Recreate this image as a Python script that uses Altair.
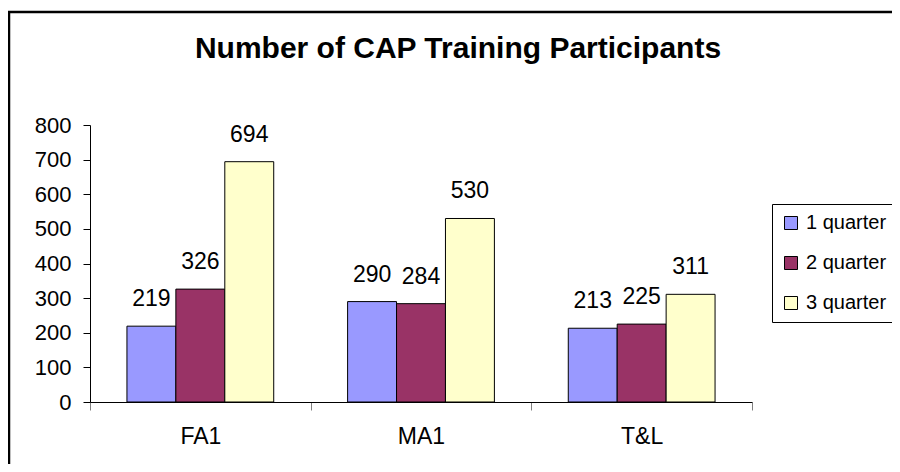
import altair as alt
import pandas as pd

title_text = "Number of CAP Training Participants"
categories = ["FA1", "MA1", "T&L"]
series = ["1 quarter", "2 quarter", "3 quarter"]
q1 = [219, 290, 213]
q2 = [326, 284, 225]
q3 = [694, 530, 311]
colors = ["#9999FF", "#993366", "#FFFFCC"]
y_ticks = [0, 100, 200, 300, 400, 500, 600, 700, 800]

rows = []
for i, c in enumerate(categories):
    for s, vals in zip(series, [q1, q2, q3]):
        rows.append({"course": c, "quarter": s, "value": vals[i]})
df = pd.DataFrame(rows)

FONT = "Liberation Sans"
W, H = 662, 277

x_enc = alt.X(
    "course:N",
    sort=categories,
    scale=alt.Scale(paddingInner=0, paddingOuter=0),
    axis=alt.Axis(
        title=None, labelAngle=0, tickBand="extent", tickSize=8, grid=False,
        tickColor="#808080", domainColor="black", labelFontSize=23,
        labelFont=FONT, labelColor="black", labelPadding=15,
    ),
)
xoff_enc = alt.XOffset(
    "quarter:N", sort=series,
    scale=alt.Scale(paddingInner=0, paddingOuter=0.755),
)
y_enc = alt.Y(
    "value:Q",
    scale=alt.Scale(domain=[0, 800], nice=False),
    axis=alt.Axis(
        title=None, values=y_ticks, grid=False, tickSize=7, tickColor="black",
        domainColor="black", labelFontSize=22, labelFont=FONT,
        labelColor="black", labelPadding=12, labelOverlap=False,
        tickCount=9,
    ),
)

frame = alt.Chart(pd.DataFrame({"f": [0]})).mark_rect(
    fillOpacity=0, stroke="black", strokeWidth=2.5
).encode(
    x=alt.value(-81), x2=alt.value(900), y=alt.value(-113), y2=alt.value(500)
)

title = alt.Chart(pd.DataFrame({"t": [title_text]})).mark_text(
    fontSize=30, font=FONT, fontWeight="bold", color="black",
    align="center", baseline="alphabetic",
).encode(
    text="t:N", x=alt.value(W / 2 + 37), y=alt.value(-67)
)

bars = alt.Chart(df).mark_bar(stroke="black", strokeWidth=1).encode(
    x=x_enc,
    xOffset=xoff_enc,
    y=y_enc,
    fill=alt.Fill(
        "quarter:N", sort=series,
        scale=alt.Scale(domain=series, range=colors),
        legend=alt.Legend(
            title=None, orient="none", legendX=682, legendY=79,
            strokeColor="black", fillColor="white", padding=9,
            cornerRadius=0, symbolType="square", symbolSize=169,
            symbolStrokeColor="black", symbolStrokeWidth=1,
            labelFontSize=20, labelFont=FONT, labelColor="black",
            labelOffset=5, rowPadding=20, labelLimit=300,
        ),
    ),
)

labels = alt.Chart(df).mark_text(
    baseline="alphabetic", dy=-20, fontSize=23, font=FONT, color="black"
).encode(
    x=alt.X("course:N", sort=categories),
    xOffset=alt.XOffset("quarter:N", sort=series),
    y="value:Q",
    text="value:Q",
)

chart = alt.layer(frame, title, bars, labels).properties(
    width=W,
    height=H,
    autosize=alt.AutoSizeParams(type="none"),
    padding={"left": 82, "top": 117, "right": 140, "bottom": 62},
    background="white",
).configure_view(strokeWidth=0, stroke="transparent")

chart.save("out.html", embed_options={"renderer": "svg", "actions": False})
